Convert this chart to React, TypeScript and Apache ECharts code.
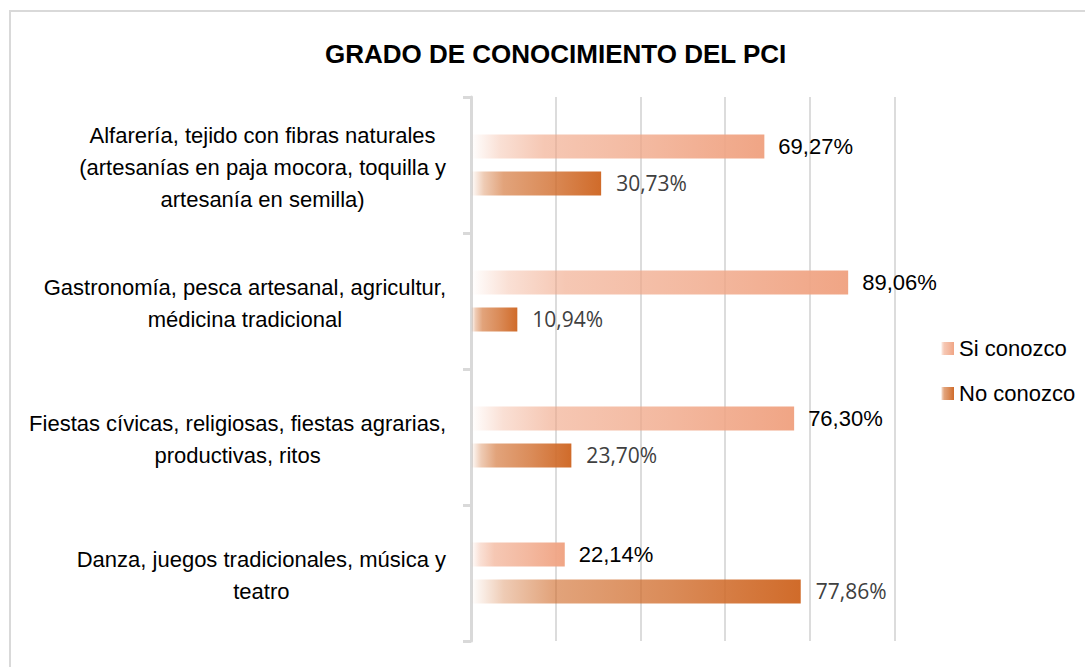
import React, { useEffect, useRef } from "react";
import * as echarts from "echarts";

const categories: string[] = [
  "Alfarería, tejido con fibras naturales\n(artesanías en paja mocora, toquilla y\nartesanía en semilla)",
  "Gastronomía, pesca artesanal, agricultur,\nmédicina tradicional",
  "Fiestas cívicas, religiosas, fiestas agrarias,\nproductivas, ritos",
  "Danza, juegos tradicionales, música y\nteatro",
];
const seriesNames: string[] = ["Si conozco", "No conozco"];
const siValues: number[] = [69.27, 89.06, 76.3, 22.14];
const noValues: number[] = [30.73, 10.94, 23.7, 77.86];
const titleText = "GRADO DE CONOCIMIENTO DEL PCI";

const NARROW = "'Liberation Sans', Arial, sans-serif";
const SANS = "'Open Sans', 'Noto Sans', sans-serif";

function grad(r: number, g: number, b: number) {
  return new echarts.graphic.LinearGradient(0, 0, 1, 0, [
    { offset: 0, color: `rgba(${r},${g},${b},0)` },
    { offset: 0.1, color: `rgba(${r},${g},${b},0.35)` },
    { offset: 0.25, color: `rgba(${r},${g},${b},0.62)` },
    { offset: 0.6, color: `rgba(${r},${g},${b},0.78)` },
    { offset: 1, color: `rgba(${r},${g},${b},1)` },
  ]);
}

const fmt = (v: number) => v.toFixed(2).replace(".", ",") + "%";

export default function App() {
  const ref = useRef<HTMLDivElement>(null);
  useEffect(() => {
    if (!ref.current) return;
    const chart = echarts.init(ref.current, undefined, { renderer: "svg" });
    chart.setOption({
      animation: false,
      backgroundColor: "#ffffff",
      title: {
        text: titleText,
        left: 320,
        top: 36,
        textStyle: { fontFamily: NARROW, fontWeight: "bold", fontSize: 26, color: "#000" },
      },
      graphic: [
        {
          type: "rect",
          shape: { x: 10, y: 11, width: 1200, height: 800 },
          style: { fill: "none", stroke: "#d9d9d9", lineWidth: 2 },
          silent: true,
        },
      ],
      legend: {
        data: seriesNames,
        orient: "vertical",
        left: 936,
        top: 332,
        itemWidth: 13,
        itemHeight: 13,
        itemGap: 22,
        icon: "rect",
        textStyle: { fontFamily: NARROW, fontSize: 22, color: "#000", lineHeight: 23 },
      },
      grid: { left: 471, right: 190.5, top: 97, bottom: 26, containLabel: false },
      xAxis: {
        type: "value",
        min: 0,
        max: 100,
        interval: 20,
        axisLabel: { show: false },
        axisLine: { show: false },
        axisTick: { show: false },
        splitLine: { show: true, lineStyle: { color: "#d0d0d0", width: 1.5 } },
      },
      yAxis: {
        type: "category",
        inverse: true,
        data: categories,
        axisLine: { show: true, lineStyle: { color: "#d9d9d9", width: 3 } },
        axisTick: { show: true, length: 8, lineStyle: { color: "#d9d9d9", width: 3 } },
        axisLabel: {
          margin: 25,
          padding: [5, 0, 0, 0],
          formatter: (v: string) => v.split("\n").map((l) => `{c|${l}}`).join("\n"),
          rich: {
            c: { align: "center", fontFamily: NARROW, fontSize: 22, color: "#000", lineHeight: 32 },
          },
        },
      },
      series: [
        {
          name: seriesNames[0],
          type: "bar",
          data: siValues,
          barWidth: 24,
          barGap: "54%",
          itemStyle: { color: grad(240, 165, 133) },
          label: {
            show: true,
            position: "right",
            distance: 14,
            formatter: (p: any) => fmt(p.value),
            fontFamily: NARROW,
            fontSize: 22,
            color: "#000",
          },
        },
        {
          name: seriesNames[1],
          type: "bar",
          data: noValues,
          barWidth: 24,
          barGap: "54%",
          itemStyle: { color: grad(208, 107, 42) },
          label: {
            show: true,
            position: "right",
            distance: 15,
            formatter: (p: any) => fmt(p.value),
            fontFamily: SANS,
            fontSize: 21,
            color: "#404040",
          },
        },
      ],
    });
    return () => chart.dispose();
  }, []);
  return (
    <div
      ref={ref}
      style={{ position: "fixed", left: 0, top: 0, width: 1085, height: 667 }}
    />
  );
}
